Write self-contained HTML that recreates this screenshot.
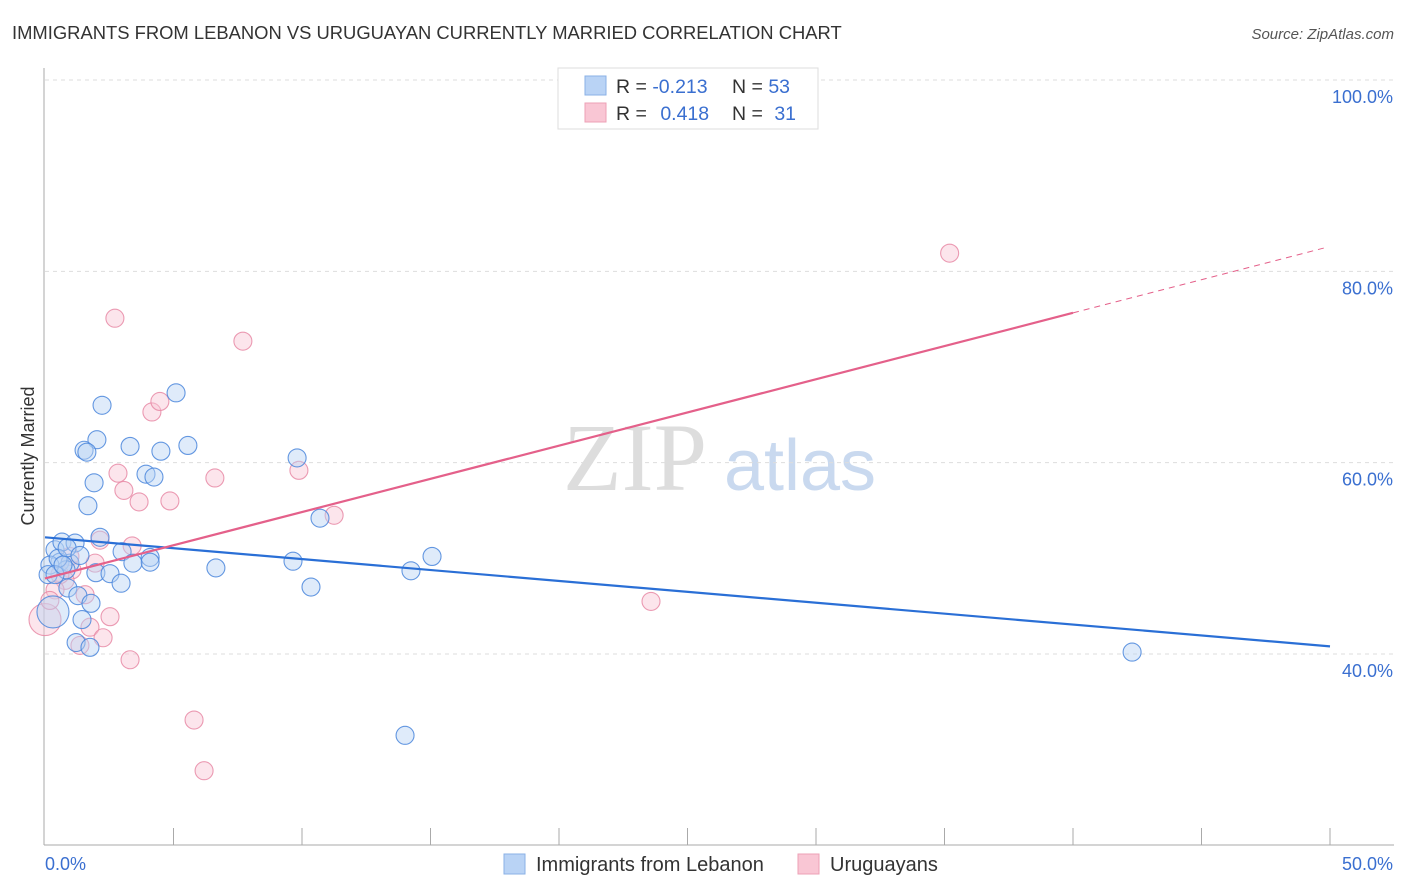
<!DOCTYPE html>
<html><head><meta charset="utf-8"><style>
body{margin:0;background:#fff;font-family:"Liberation Sans",sans-serif;}
svg{display:block}
</style></head><body>
<svg id="c" width="1406" height="892" xmlns="http://www.w3.org/2000/svg" font-family="Liberation Sans, sans-serif">
<text x="12" y="39" font-size="18.4" fill="#333">IMMIGRANTS FROM LEBANON VS URUGUAYAN CURRENTLY MARRIED CORRELATION CHART</text>
<text x="1394" y="39" font-size="15" fill="#555" text-anchor="end" font-style="italic">Source: ZipAtlas.com</text>
<text x="635" y="490" font-size="96" fill="#ddd" text-anchor="middle" font-family="Liberation Serif, serif">ZIP</text>
<text x="800" y="490" font-size="72" fill="#c9d9ef" text-anchor="middle">atlas</text>
<text transform="translate(34,456) rotate(-90)" font-size="18" fill="#333" text-anchor="middle">Currently Married</text>
<g id="grid"></g><g id="axes"></g><g id="marks"></g>
<g>
<rect x="558" y="68" width="260" height="61" fill="#fff" stroke="#ddd"/>
<rect x="585" y="76" width="21" height="19" fill="#b9d3f5" stroke="#8ab0e6"/>
<rect x="585" y="103" width="21" height="19" fill="#f9c6d4" stroke="#eda0b6"/>
<text x="616" y="93" font-size="19.5" fill="#333">R = <tspan fill="#3a6fd0">-0.213</tspan></text>
<text x="732" y="93" font-size="19.5" fill="#333">N = <tspan fill="#3a6fd0">53</tspan></text>
<text x="616" y="120" font-size="19.5" fill="#333">R = <tspan fill="#3a6fd0" dx="8">0.418</tspan></text>
<text x="732" y="120" font-size="19.5" fill="#333">N = <tspan fill="#3a6fd0" dx="6">31</tspan></text>
</g>
<g>
<rect x="504" y="854" width="21" height="20" fill="#b9d3f5" stroke="#8ab0e6"/>
<text x="536" y="871" font-size="20" fill="#333">Immigrants from Lebanon</text>
<rect x="798" y="854" width="21" height="20" fill="#f9c6d4" stroke="#eda0b6"/>
<text x="830" y="871" font-size="20" fill="#333">Uruguayans</text>
</g>
</svg>
<script>
const yTicks=[40,60,80,100];
const yTickLabels=["40.0%","60.0%","80.0%","100.0%"];
const blueX=[2.22,5.10,2.02,1.52,1.63,3.31,4.51,5.56,3.93,4.24,1.91,1.67,9.81,10.70,2.14,3.00,4.09,4.09,3.42,0.39,0.66,1.17,0.58,0.97,0.82,1.98,2.53,2.96,0.89,1.28,1.79,1.44,1.21,1.75,6.65,9.65,10.35,14.24,15.06,14.01,42.30,0.19,0.12,0.31,0.51,0.86,1.36,0.39,0.70];
const blueY=[66.0,67.3,62.4,61.3,61.1,61.7,61.2,61.8,58.8,58.5,57.9,55.5,60.5,54.2,52.2,50.7,50.1,49.6,49.5,50.9,51.7,51.6,49.6,49.5,48.8,48.5,48.4,47.4,46.9,46.1,45.3,43.6,41.2,40.7,49.0,49.7,47.0,48.7,50.2,31.5,40.2,49.3,48.3,44.4,50.0,51.1,50.3,48.3,49.3];
const pinkX=[2.72,7.70,35.2,4.16,4.47,2.84,6.61,3.07,3.66,4.86,9.88,11.25,2.14,3.39,1.95,1.05,0.78,1.56,1.75,2.53,2.26,1.36,3.31,5.80,6.19,23.58,0,0.39,0.58,0.97,0.19];
const pinkY=[75.1,72.7,81.9,65.3,66.4,58.9,58.4,57.1,55.9,56.0,59.2,54.5,51.9,51.3,49.5,48.8,47.7,46.2,42.8,43.9,41.7,40.9,39.4,33.1,27.8,45.5,43.6,46.7,48.3,50.2,45.6];
const blueTrend=[52.2,40.8];
const pinkTrend=[47.9,0.694];
const NS="http://www.w3.org/2000/svg";
const X=v=>45+v*25.7, Y=v=>80+(100-v)*9.567;
function mk(t,a,p){const e=document.createElementNS(NS,t);for(const k in a)e.setAttribute(k,a[k]);p.appendChild(e);return e;}
const grid=document.getElementById('grid'),axes=document.getElementById('axes'),marks=document.getElementById('marks');
yTicks.forEach((v,i)=>{
 const l=mk('line',{x1:45,x2:1394,y1:Y(v),y2:Y(v),stroke:'#ddd','stroke-dasharray':'4,4'},grid);
 
 
 const t=mk('text',{x:1393,y:Y(v)+23,'font-size':18,fill:'#3a6fd0','text-anchor':'end'},axes);
 t.textContent=yTickLabels[i];
 
 
});
const ax=mk('line',{x1:44,x2:44,y1:68,y2:845,stroke:'#aaa'},axes);


const bx=mk('line',{x1:44,x2:1394,y1:845,y2:845,stroke:'#aaa'},axes);


for(let v=5;v<=50;v+=5){const t=mk('line',{x1:X(v),x2:X(v),y1:828,y2:845,stroke:'#aaa'},axes);
 
 }
[[0,"0.0%",'start',45],[50,"50.0%",'end',1393]].forEach(d=>{const t=mk('text',{x:d[3],y:870,'font-size':18,fill:'#3a6fd0','text-anchor':d[2]},axes);t.textContent=d[1];
 
 });
function dots(xs,ys,fill,stroke,name){xs.forEach((x,i)=>{const big=(x===0||x===0.31);
 const c=mk('circle',{cx:X(x),cy:Y(ys[i]),r:big?16:9,fill:fill,'fill-opacity':0.45,stroke:stroke,'stroke-width':1.1,'stroke-opacity':0.85},marks);
 
 });}
dots(pinkX,pinkY,'#f9c6d4','#e88aa6','uruguayan-point');
dots(blueX,blueY,'#b9d3f5','#4a86dc','lebanon-point');
const bl=mk('line',{x1:X(0),y1:Y(blueTrend[0]),x2:X(50),y2:Y(blueTrend[1]),stroke:'#2a6fd6','stroke-width':2.2},marks);


const pl=mk('line',{x1:X(0),y1:Y(pinkTrend[0]),x2:X(40),y2:Y(pinkTrend[0]+40*pinkTrend[1]),stroke:'#e4608a','stroke-width':2.2},marks);


const pd=mk('line',{x1:X(40),y1:Y(pinkTrend[0]+40*pinkTrend[1]),x2:X(49.8),y2:Y(pinkTrend[0]+49.8*pinkTrend[1]),stroke:'#e4608a','stroke-width':1,'stroke-dasharray':'6,5'},marks);


</script>
</body></html>
